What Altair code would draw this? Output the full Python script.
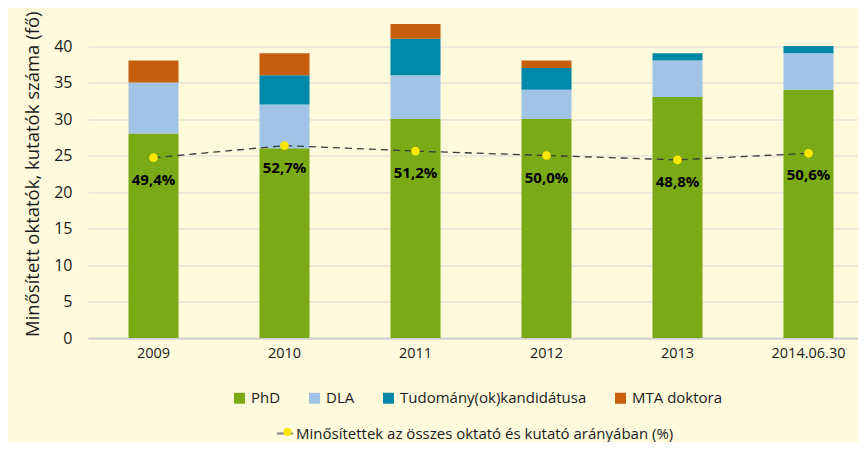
import altair as alt
import pandas as pd

years = ["2009", "2010", "2011", "2012", "2013", "2014.06.30"]
phd = [28, 26, 30, 30, 33, 34]
dla = [7, 6, 6, 4, 5, 5]
tud = [0, 4, 5, 3, 1, 1]
mta = [3, 3, 2, 1, 0, 0]
pct = [49.4, 52.7, 51.2, 50.0, 48.8, 50.6]

series_names = ["PhD", "DLA", "Tudomány(ok)kandidátusa", "MTA doktora"]
series_colors = ["#7AAB17", "#A1C4E6", "#0088A8", "#C65F0E"]
line_name = "Minősítettek az összes oktató és kutató arányában (%)"
y_ticks = [0, 5, 10, 15, 20, 25, 30, 35, 40]

FONT = "Open Sans"

rows = []
for i, y in enumerate(years):
    for k, (name, vals) in enumerate(zip(series_names, [phd, dla, tud, mta])):
        rows.append({"year": y, "series": name, "value": vals[i], "ord": k})
bars_df = pd.DataFrame(rows)

line_df = pd.DataFrame({
    "year": years,
    "pct": pct,
    "label": [f"{v:.1f}".replace(".", ",") + "%" for v in pct],
    "s1": [line_name] * len(years),
    "s2": [line_name] * len(years),
})

xenc = alt.X("year:N", sort=years, title=None,
             scale=alt.Scale(range=[0, 786], paddingInner=0.618, paddingOuter=0.309),
             axis=alt.Axis(labelAngle=0, labelFontSize=14.5, labelColor="#1a1a1a", labelFont=FONT,
                           labelPadding=8, ticks=False, domainColor="#D0D0D0", domainWidth=2,
                           grid=False))

bars = alt.Chart(bars_df).mark_bar().encode(
    x=xenc,
    y=alt.Y("value:Q", stack="zero",
            scale=alt.Scale(domain=[0, 45], nice=False),
            axis=alt.Axis(values=y_ticks, title="Minősített oktatók, kutatók száma  (fő)",
                          titleFontSize=18.5, titleFont=FONT, titleFontWeight="normal",
                          titleColor="#1a1a1a", titlePadding=11,
                          labelFontSize=16, labelFont=FONT, labelColor="#1a1a1a",
                          labelPadding=16, ticks=False, domain=False,
                          gridColor="#D9D9D9", gridWidth=1)),
    color=alt.Color("series:N", sort=series_names,
                    scale=alt.Scale(domain=series_names, range=series_colors),
                    legend=alt.Legend(orient="none", legendX=144, legendY=381, direction="horizontal",
                                      title=None, symbolType="square", symbolSize=121,
                                      symbolStrokeWidth=0, labelFontSize=15, labelFont=FONT,
                                      labelColor="#1a1a1a", labelOffset=4, columnPadding=26,
                                      labelLimit=0, padding=0)),
    order=alt.Order("ord:Q", sort="ascending"),
)

yl = alt.Y("pct:Q", scale=alt.Scale(domain=[0, 90], nice=False), axis=None)

line = alt.Chart(line_df).mark_line(color="#3a3a3a", strokeWidth=1.3).encode(
    x=alt.X("year:N", sort=years),
    y=yl,
    strokeDash=alt.StrokeDash("s1:N", scale=alt.Scale(range=[[7, 5]]),
                              legend=alt.Legend(orient="none", legendX=188, legendY=415,
                                                title=None, symbolType="stroke", symbolSize=256,
                                                symbolStrokeColor="#808080", symbolStrokeWidth=2,
                                                labelFontSize=15, labelFont=FONT, labelColor="#1a1a1a",
                                                labelOffset=2, labelLimit=0, padding=0)),
)

points = alt.Chart(line_df).mark_circle(size=75, opacity=1).encode(
    x=alt.X("year:N", sort=years),
    y=yl,
    fill=alt.Fill("s2:N", scale=alt.Scale(range=["#FFE600"]),
                  legend=alt.Legend(orient="none", legendX=192, legendY=415,
                                    title=None, symbolType="circle", symbolSize=64,
                                    symbolStrokeWidth=0, symbolOpacity=1,
                                    labelExpr="''", labelFontSize=15, labelFont=FONT,
                                    labelOffset=6, padding=0)),
)

texts = alt.Chart(line_df).mark_text(dy=22, fontSize=15, fontWeight="bold", font=FONT,
                                     color="#000000").encode(
    x=alt.X("year:N", sort=years),
    y=yl,
    text="label:N",
)

chart = alt.layer(bars, line, points, texts).resolve_scale(
    y="independent"
).properties(
    width=770, height=328.5,
    autosize=alt.AutoSizeParams(type="none"),
    padding={"left": 80, "top": 1.5, "right": 0, "bottom": 104},
    background="#FFFADC",
).configure_view(stroke=None)

chart.save("out.html", embed_options={"renderer": "svg", "actions": False})
